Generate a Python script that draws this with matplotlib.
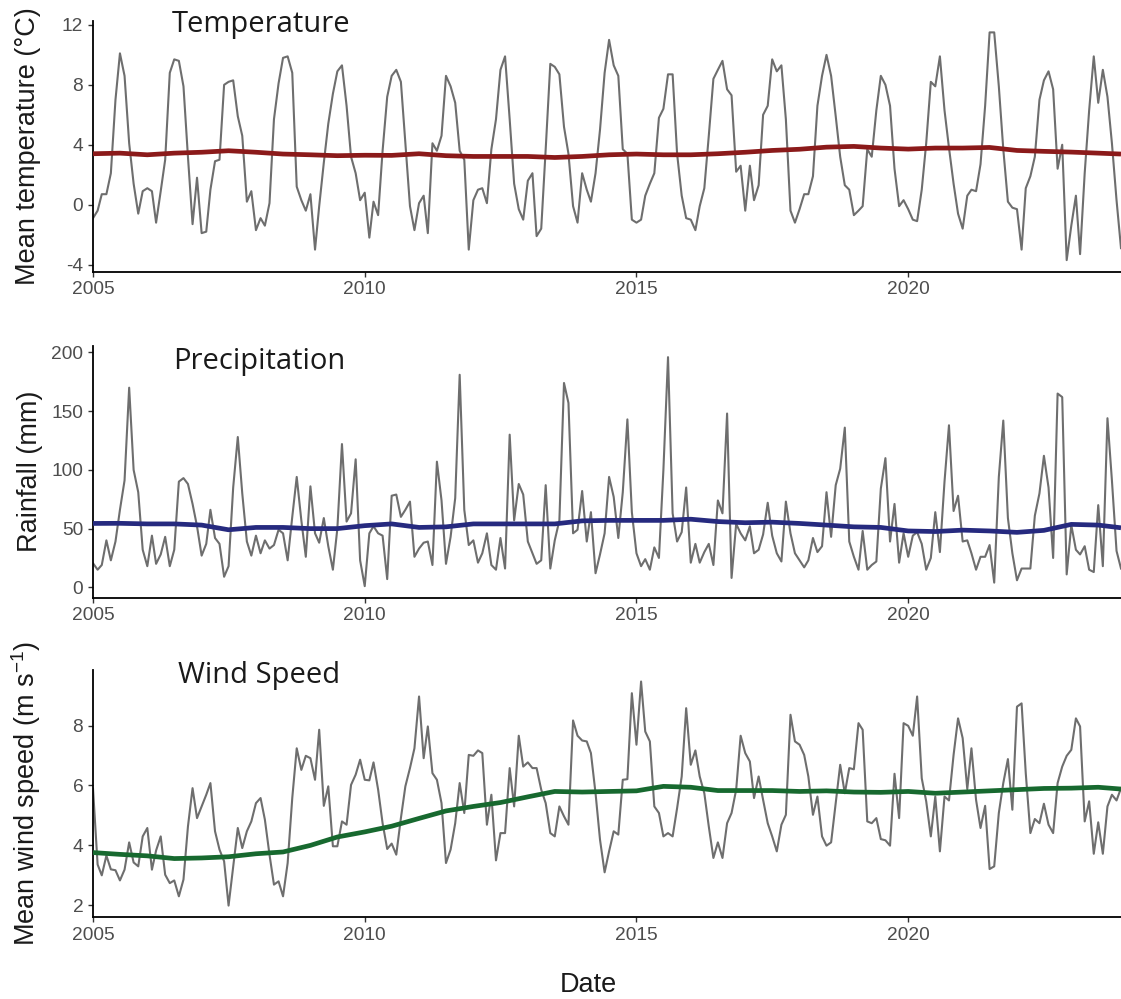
import matplotlib
matplotlib.use('Agg')
import matplotlib.pyplot as plt
import matplotlib.dates as mdates
import pandas as pd

# monthly values, Jan 2005 - Dec 2023
temperature = [
    -0.9, -0.4, 0.7, 0.7, 2.1, 7.0, 10.1, 8.6, 4.1, 1.4, -0.6, 0.9,
    1.1, 0.9, -1.2, 0.9, 3.0, 8.8, 9.7, 9.6, 7.9, 3.2, -1.3, 1.8,
    -1.9, -1.8, 1.0, 2.9, 3.0, 8.0, 8.2, 8.3, 5.9, 4.6, 0.2, 0.9,
    -1.7, -0.9, -1.4, 0.1, 5.7, 8.1, 9.8, 9.9, 8.8, 1.2, 0.3, -0.4,
    0.7, -3.0, -0.1, 2.8, 5.4, 7.4, 8.9, 9.3, 6.6, 3.2, 2.1, 0.3,
    0.8, -2.2, 0.2, -0.7, 3.6, 7.2, 8.6, 9.0, 8.2, 4.1, -0.1, -1.7,
    0.1, 0.6, -1.9, 4.1, 3.6, 4.6, 8.6, 7.9, 6.8, 3.6, 3.0, -3.0,
    0.3, 1.0, 1.1, 0.1, 3.7, 5.7, 9.0, 9.9, 5.7, 1.4, -0.3, -1.0,
    1.6, 2.1, -2.1, -1.6, 3.7, 9.4, 9.2, 8.7, 5.2, 3.4, -0.1, -1.2,
    2.1, 1.0, 0.2, 2.1, 5.0, 8.8, 11.0, 9.3, 8.6, 3.7, 3.4, -1.0,
    -1.2, -1.0, 0.6, 1.4, 2.1, 5.8, 6.4, 8.7, 8.7, 3.4, 0.6, -0.9,
    -1.0, -1.7, -0.1, 1.1, 4.6, 8.4, 9.0, 9.6, 7.7, 7.3, 2.2, 2.6,
    -0.4, 2.6, 0.3, 1.3, 6.0, 6.6, 9.7, 8.9, 9.3, 5.7, -0.4, -1.2,
    -0.3, 0.7, 0.7, 1.9, 6.6, 8.6, 10.0, 8.6, 5.9, 3.2, 1.3, 1.0,
    -0.7, -0.4, -0.1, 3.7, 3.2, 6.3, 8.6, 8.0, 6.6, 2.4, -0.1, 0.3,
    -0.3, -1.0, -1.1, 1.0, 4.1, 8.2, 7.9, 9.9, 6.3, 3.8, 1.4, -0.6,
    -1.6, 0.6, 1.0, 0.9, 2.7, 6.6, 11.5, 11.5, 7.9, 3.7, 0.2, -0.2,
    -0.3, -3.0, 1.1, 1.9, 3.2, 7.0, 8.3, 8.9, 7.7, 2.4, 4.0, -3.7,
    -1.4, 0.6, -3.3, 2.1, 6.3, 9.9, 6.8, 9.0, 7.2, 4.1, 0.3, -2.9,
]

rainfall = [
    20.5, 15, 19, 40, 23, 39, 66, 91, 170, 100, 81, 32,
    18, 44, 20, 28, 43, 18, 32, 90, 93, 88, 71, 52,
    27, 37, 66, 42, 37, 9, 18, 85, 128, 80, 39, 27,
    44, 29, 40, 33, 36, 49, 46, 23, 60, 94, 57, 26,
    86, 46, 38, 59, 35, 15, 50, 122, 56, 63, 109, 23,
    1, 46, 52, 46, 44, 7, 78, 79, 60, 66, 73, 26,
    33, 38, 39, 19, 107, 74, 20, 43, 76, 181, 66, 36,
    40, 21, 29, 46, 19, 15, 42, 16, 130, 57, 88, 79,
    39, 29, 20, 23, 87, 16, 40, 57, 174, 157, 46, 49,
    82, 39, 64, 12, 28, 46, 94, 77, 42, 81, 143, 64,
    29, 18, 24, 15, 34, 25, 100, 196, 63, 39, 47, 85,
    21, 37, 21, 30, 37, 19, 74, 63, 148, 8, 54, 46,
    40, 52, 29, 32, 45, 72, 44, 29, 22, 73, 46, 29,
    23, 17, 23, 42, 30, 35, 81, 43, 87, 101, 136, 39,
    26, 15, 48, 15, 19, 22, 84, 110, 39, 71, 21, 46,
    26, 44, 47, 37, 15, 25, 64, 30, 90, 138, 65, 78,
    39, 40, 29, 15, 26, 26, 36, 4, 94, 142, 59, 29,
    6, 16, 16, 16, 61, 80, 112, 85, 25, 165, 162, 11,
    53, 32, 28, 35, 15, 13, 70, 18, 144, 91, 31, 16,
]

wind_speed = [
    5.9, 3.36, 3.0, 3.66, 3.2, 3.17, 2.83, 3.19, 4.1, 3.43, 3.3, 4.3,
    4.58, 3.19, 3.83, 4.3, 3.02, 2.74, 2.83, 2.3, 2.86, 4.63, 5.91, 4.91,
    5.3, 5.69, 6.08, 4.47, 3.86, 3.47, 1.99, 3.3, 4.58, 3.91, 4.47, 4.8,
    5.41, 5.58, 4.86, 3.69, 2.69, 2.8, 2.3, 3.41, 5.58, 7.24, 6.52, 6.99,
    6.91, 6.19, 7.86, 5.32, 5.97, 3.97, 3.97, 4.8, 4.69, 6.02, 6.36, 6.86,
    6.19, 6.17, 6.77, 5.86, 4.74, 3.88, 4.06, 3.69, 4.91, 5.97, 6.58, 7.24,
    8.97, 6.91, 7.97, 6.41, 6.19, 5.41, 3.41, 3.86, 4.74, 6.08, 5.08, 7.02,
    6.99, 7.17, 7.08, 4.69, 5.69, 3.5, 4.41, 4.41, 6.58, 5.3, 7.66, 6.63,
    6.77, 6.58, 6.58, 5.86, 5.41, 4.41, 4.3, 5.3, 4.97, 4.69, 8.17, 7.66,
    7.5, 7.47, 7.08, 5.74, 4.19, 3.1, 3.8, 4.47, 4.36, 6.19, 6.21, 9.08,
    7.36, 9.47, 7.8, 7.47, 5.3, 5.08, 4.3, 4.41, 4.3, 5.24, 6.3, 8.58,
    6.69, 7.17, 6.3, 5.74, 4.63, 3.58, 4.1, 3.58, 4.74, 5.08, 5.86, 7.66,
    7.08, 6.8, 5.58, 6.3, 5.52, 4.74, 4.3, 3.8, 4.69, 5.02, 8.36, 7.47,
    7.36, 7.02, 6.3, 5.02, 5.63, 4.3, 3.99, 4.1, 5.41, 6.69, 5.74, 6.58,
    6.54, 8.08, 7.86, 4.8, 4.74, 4.91, 4.21, 4.17, 3.99, 6.39, 4.91, 8.08,
    7.99, 7.66, 8.97, 6.24, 5.47, 4.3, 5.63, 3.8, 5.63, 5.5, 7.02, 8.24,
    7.58, 5.88, 7.24, 5.52, 4.58, 5.32, 3.21, 3.3, 5.08, 6.08, 6.88, 5.19,
    8.63, 8.74, 6.41, 4.41, 4.88, 4.74, 5.39, 4.69, 4.41, 6.08, 6.63, 6.99,
    7.19, 8.24, 7.97, 4.8, 5.47, 3.72, 4.77, 3.72, 5.3, 5.69, 5.5, 5.91,
]

trend_months = list(range(0, 228, 6)) + [227]
temp_trend = [3.4, 3.44, 3.33, 3.44, 3.5, 3.6, 3.5, 3.38, 3.33, 3.27, 3.3, 3.29, 3.4,
              3.27, 3.22, 3.22, 3.22, 3.15, 3.22, 3.33, 3.38, 3.33, 3.33, 3.4, 3.5,
              3.62, 3.7, 3.84, 3.89, 3.78, 3.71, 3.78, 3.78, 3.82, 3.62, 3.56, 3.51,
              3.44, 3.38]
rain_trend = [54.4, 54.5, 54, 54, 53, 49, 51, 51, 50, 50, 52.5, 54, 51,
              51.5, 54, 54, 54, 54, 56.6, 57, 57, 57, 58, 56, 55,
              55.5, 54.4, 53, 51.5, 51, 48, 47.5, 48.7, 48, 46.8, 48.5, 53.6,
              53, 50.7]
wind_trend = [3.76, 3.7, 3.65, 3.56, 3.58, 3.62, 3.72, 3.78, 4.0, 4.28, 4.45, 4.64, 4.9,
              5.15, 5.3, 5.43, 5.62, 5.8, 5.78, 5.8, 5.82, 5.97, 5.94, 5.83, 5.83,
              5.83, 5.8, 5.82, 5.78, 5.77, 5.8, 5.74, 5.78, 5.82, 5.86, 5.9, 5.91,
              5.94, 5.88]

titles = ['Temperature', 'Precipitation', 'Wind Speed']
ylabels = ['Mean temperature (°C)', 'Rainfall (mm)', 'Mean wind speed (m s$^{-1}$)']
yticks = [[-4, 0, 4, 8, 12], [0, 50, 100, 150, 200], [2, 4, 6, 8]]
trend_colors = ['#8B1A1A', '#262A7F', '#17692F']

W, H = 1121, 999
plt.rcParams['font.family'] = ['Liberation Sans', 'DejaVu Sans']
plt.rcParams['axes.unicode_minus'] = False
plt.rcParams['mathtext.fontset'] = 'custom'
plt.rcParams['mathtext.rm'] = 'Liberation Sans'
plt.rcParams['mathtext.it'] = 'Liberation Sans:italic'

dates = pd.date_range('2005-01-01', periods=len(temperature), freq='MS')
trend_dates = dates[trend_months]

fig = plt.figure(figsize=(W / 100, H / 100), dpi=100)

# panel boxes in pixels: (top, bottom) of the axis area
boxes = [(21, 271.5), (345.7, 597.6), (670.3, 916.8)]
title_pos = [(172, 32), (173, 369), (178, 683)]
label_x = [28, 30, 26]
series = [temperature, rainfall, wind_speed]
trends = [temp_trend, rain_trend, wind_trend]

for i in range(3):
    top, bottom = boxes[i]
    ax = fig.add_axes([93 / W, 1 - bottom / H, 1028 / W, (bottom - top) / H])
    ax.plot(dates, series[i], color='#6E6E6E', lw=1.5, zorder=2)
    ax.plot(trend_dates, trends[i], color=trend_colors[i], lw=3.4,
            solid_capstyle='butt', zorder=3)
    ax.set_xlim(dates[0], dates[-1])
    lo, hi = min(series[i]), max(series[i])
    pad = (hi - lo) * 0.05
    ax.set_ylim(lo - pad, hi + pad)
    ax.set_yticks(yticks[i])
    ax.xaxis.set_major_locator(mdates.YearLocator(5))
    ax.xaxis.set_major_formatter(mdates.DateFormatter('%Y'))
    for side in ['top', 'right']:
        ax.spines[side].set_visible(False)
    for side in ['left', 'bottom']:
        ax.spines[side].set_linewidth(1.3)
        ax.spines[side].set_color('black')
    ax.tick_params(axis='both', length=3.6, width=1.0, color='#333333',
                   labelsize=13.8, labelcolor='#4D4D4D')
    ax.tick_params(axis='x', pad=3.5)
    ax.tick_params(axis='y', pad=3.4)
    ax.patch.set_alpha(0)

    tx, ty = title_pos[i]
    fig.text(tx / W, 1 - ty / H, titles[i], fontsize=21, family='Open Sans',
             color='#1A1A1A', ha='left', va='baseline')
    fig.text(label_x[i] / W, 1 - (top + bottom) / 2 / H, ylabels[i], fontsize=19.5,
             rotation=90, ha='center', va='center', color='#1A1A1A')

fig.text(588 / W, 1 - 985 / H, 'Date', fontsize=19.5, ha='center', va='center',
         color='#1A1A1A')

fig.savefig('out.png', dpi=100)
